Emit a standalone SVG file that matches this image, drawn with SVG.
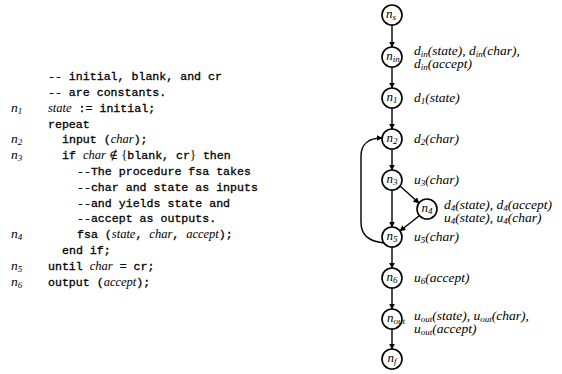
<svg xmlns="http://www.w3.org/2000/svg" width="562" height="374" viewBox="0 0 562 374">
<style>
.code{font-family:"Liberation Mono","DejaVu Sans Mono",monospace;font-size:11.6px;fill:#000;stroke:#000;stroke-width:0.3;white-space:pre}
.it{font-family:"Liberation Serif","DejaVu Serif",serif;font-style:italic;font-size:12.5px;stroke:none}
.rm{font-family:"Liberation Serif","DejaVu Serif",serif;font-style:normal;font-size:12.5px;stroke:none}
.lab{font-family:"Liberation Serif","DejaVu Serif",serif;font-style:italic;font-size:13.5px;fill:#000}
.sub{font-size:9px}
.node circle{fill:#fff;stroke:#000;stroke-width:1.6}
.node text{font-family:"Liberation Serif","DejaVu Serif",serif;font-style:italic;font-size:13px;text-anchor:middle}
.edge{fill:none;stroke:#000;stroke-width:1.4;marker-end:url(#ah)}
</style>
<defs>
<marker id="ah" viewBox="0 0 10 10" refX="9" refY="5" markerWidth="6" markerHeight="6" markerUnits="userSpaceOnUse" orient="auto">
<path d="M0,0 L10,5 L0,10 z" fill="#000"/>
</marker>
</defs>

<g id="code">
<text class="code" x="48" y="80">-- initial, blank, and cr</text>
<text class="code" x="48" y="96">-- are constants.</text>
<text class="lab" x="11" y="112">n<tspan class="sub" dy="2">1</tspan></text>
<text class="code" x="48" y="112"><tspan class="it">state</tspan> := initial;</text>
<text class="code" x="48" y="128">repeat</text>
<text class="lab" x="11" y="143">n<tspan class="sub" dy="2">2</tspan></text>
<text class="code" x="62" y="143">input (<tspan class="it">char</tspan>);</text>
<text class="lab" x="11" y="159">n<tspan class="sub" dy="2">3</tspan></text>
<text class="code" x="62" y="159">if <tspan class="it">char</tspan><tspan class="rm"> ∉ {</tspan>blank, cr<tspan class="rm">}</tspan> then</text>
<text class="code" x="77" y="175">--The procedure fsa takes</text>
<text class="code" x="77" y="191">--char and state as inputs</text>
<text class="code" x="77" y="207">--and yields state and</text>
<text class="code" x="77" y="222">--accept as outputs.</text>
<text class="lab" x="11" y="238">n<tspan class="sub" dy="2">4</tspan></text>
<text class="code" x="77" y="238">fsa (<tspan class="it">state</tspan>, <tspan class="it">char</tspan>, <tspan class="it">accept</tspan>);</text>
<text class="code" x="62" y="254">end if;</text>
<text class="lab" x="11" y="270">n<tspan class="sub" dy="2">5</tspan></text>
<text class="code" x="48" y="270">until <tspan class="it">char</tspan> = cr;</text>
<text class="lab" x="11" y="286">n<tspan class="sub" dy="2">6</tspan></text>
<text class="code" x="48" y="286">output (<tspan class="it">accept</tspan>);</text>
</g>

<g id="connectors">
<line class="edge" x1="392" y1="25" x2="392" y2="47"/>
<line class="edge" x1="392" y1="67" x2="392" y2="88"/>
<line class="edge" x1="392" y1="108" x2="392" y2="129"/>
<line class="edge" x1="392" y1="149" x2="392" y2="170"/>
<line class="edge" x1="392" y1="190" x2="392" y2="227"/>
<line class="edge" x1="400" y1="186" x2="419" y2="203"/>
<line class="edge" x1="419" y1="216" x2="400" y2="231"/>
<path class="edge" d="M384,243 C368,241 361,235 361,222 L361,156 C361,144 369,138 382,138"/>
<line class="edge" x1="392" y1="247" x2="392" y2="268"/>
<line class="edge" x1="392" y1="288" x2="392" y2="309"/>
<line class="edge" x1="392" y1="329" x2="392" y2="349"/>
</g>

<g id="n_s" class="node"><circle cx="392" cy="15" r="10"/><text x="391" y="18">n<tspan class="sub" dy="2">s</tspan></text></g>
<g id="n_in" class="node"><circle cx="392" cy="57" r="10"/><text x="393" y="60">n<tspan class="sub" dy="2">in</tspan></text></g>
<g id="n_1" class="node"><circle cx="392" cy="98" r="10"/><text x="392" y="101">n<tspan class="sub" dy="2">1</tspan></text></g>
<g id="n_2" class="node"><circle cx="392" cy="139" r="10"/><text x="392" y="142">n<tspan class="sub" dy="2">2</tspan></text></g>
<g id="n_3" class="node"><circle cx="392" cy="180" r="10"/><text x="392" y="183">n<tspan class="sub" dy="2">3</tspan></text></g>
<g id="n_4" class="node"><circle cx="427" cy="209" r="10"/><text x="427" y="212">n<tspan class="sub" dy="2">4</tspan></text></g>
<g id="n_5" class="node"><circle cx="392" cy="237" r="10"/><text x="392" y="240">n<tspan class="sub" dy="2">5</tspan></text></g>
<g id="n_6" class="node"><circle cx="392" cy="278" r="10"/><text x="392" y="281">n<tspan class="sub" dy="2">6</tspan></text></g>
<g id="n_out" class="node"><circle cx="392" cy="319" r="10"/><text x="396" y="322">n<tspan class="sub" dy="2">out</tspan></text></g>
<g id="n_f" class="node"><circle cx="392" cy="359" r="10"/><text x="392" y="362">n<tspan class="sub" dy="2">f</tspan></text></g>

<g id="labels">
<text class="lab" x="414" y="55">d<tspan class="sub" dy="1.5">in</tspan><tspan dy="-1.5">(state), d</tspan><tspan class="sub" dy="1.5">in</tspan><tspan dy="-1.5">(char),</tspan><tspan x="414" dy="13">d</tspan><tspan class="sub" dy="1.5">in</tspan><tspan dy="-1.5">(accept)</tspan></text>
<text class="lab" x="414" y="102">d<tspan class="sub" dy="2">1</tspan><tspan dy="-2">(state)</tspan></text>
<text class="lab" x="414" y="143">d<tspan class="sub" dy="2">2</tspan><tspan dy="-2">(char)</tspan></text>
<text class="lab" x="414" y="184">u<tspan class="sub" dy="2">3</tspan><tspan dy="-2">(char)</tspan></text>
<text class="lab" x="444" y="209">d<tspan class="sub" dy="1.5">4</tspan><tspan dy="-1.5">(state), d</tspan><tspan class="sub" dy="1.5">4</tspan><tspan dy="-1.5">(accept)</tspan><tspan x="444" dy="13">u</tspan><tspan class="sub" dy="1.5">4</tspan><tspan dy="-1.5">(state), u</tspan><tspan class="sub" dy="1.5">4</tspan><tspan dy="-1.5">(char)</tspan></text>
<text class="lab" x="414" y="241">u<tspan class="sub" dy="2">5</tspan><tspan dy="-2">(char)</tspan></text>
<text class="lab" x="414" y="282">u<tspan class="sub" dy="2">6</tspan><tspan dy="-2">(accept)</tspan></text>
<text class="lab" x="414" y="320">u<tspan class="sub" dy="1.5">out</tspan><tspan dy="-1.5">(state), u</tspan><tspan class="sub" dy="1.5">out</tspan><tspan dy="-1.5">(char),</tspan><tspan x="414" dy="13">u</tspan><tspan class="sub" dy="1.5">out</tspan><tspan dy="-1.5">(accept)</tspan></text>
</g>
</svg>
